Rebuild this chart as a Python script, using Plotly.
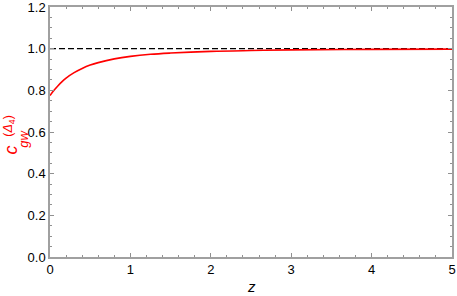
import plotly.graph_objects as go

z_vals = [0, 0.05, 0.1, 0.15, 0.2, 0.3, 0.4, 0.5, 0.6, 0.8, 1.0, 1.25, 1.5, 2.0, 2.5, 3.0, 4.0, 5.0]
c_vals = [0.775, 0.800, 0.822, 0.842, 0.859, 0.885, 0.905, 0.921, 0.933, 0.951, 0.963, 0.973, 0.979,
          0.987, 0.991, 0.994, 0.9966, 0.998]
ref_x = [0, 5]
ref_y = [1, 1]
x_ticks = [0, 1, 2, 3, 4, 5]
y_ticks = [0.0, 0.2, 0.4, 0.6, 0.8, 1.0, 1.2]
y_tick_text = ["0.0", "0.2", "0.4", "0.6", "0.8", "1.0", "1.2"]

fig = go.Figure()
fig.add_trace(go.Scatter(x=ref_x, y=ref_y, mode="lines",
                         line=dict(color="black", width=1.2, dash="6px,3px"), showlegend=False))
fig.add_trace(go.Scatter(x=z_vals, y=c_vals, mode="lines", line_shape="spline",
                         line=dict(color="#ff0000", width=1.6), showlegend=False))

axis_common = dict(showgrid=False, zeroline=False, showline=True, linecolor="#a0a0a0", linewidth=1.5,
                   mirror="allticks", ticks="inside", tickcolor="#909090", ticklen=4, tickwidth=1,
                   automargin=False, ticklabeloverflow="allow",
                   tickfont=dict(family="Liberation Sans, Arial", size=13, color="black"))

fig.update_xaxes(range=[0, 5], tickvals=x_ticks, **axis_common,
                 minor=dict(ticks="inside", ticklen=2, dtick=0.2, tickcolor="#909090"))
fig.update_yaxes(range=[0, 1.2], tickvals=y_ticks, ticktext=y_tick_text, **axis_common,
                 minor=dict(ticks="inside", ticklen=2, dtick=0.05, tickcolor="#909090"))

fig.add_annotation(text="<i>z</i>", xref="paper", yref="paper", x=0.5, y=-0.116,
                   xanchor="center", yanchor="middle",
                   showarrow=False, font=dict(family="Liberation Sans, Arial", size=15, color="black"))
red_font = dict(family="Liberation Sans, Arial", color="#ff0000")
anc = dict(xref="paper", yref="paper", xanchor="center", yanchor="middle", textangle=-90, showarrow=False)
fig.add_annotation(text="<i>c</i>", x=-0.0958, y=0.428, font=dict(size=18, **red_font), **anc)
fig.add_annotation(text="(<i>Δ</i><sub>4</sub>)", x=-0.102, y=0.525, font=dict(size=12.5, **red_font), **anc)
fig.add_annotation(text="<i>gw</i>", x=-0.068, y=0.472, font=dict(size=13, **red_font), **anc)

fig.update_layout(width=457, height=296, margin=dict(l=50, r=5, t=7, b=39),
                  plot_bgcolor="white", paper_bgcolor="white")
fig.write_html("out.html", config={"displayModeBar": False},
               post_script="document.body.style.margin='0';document.body.style.overflow='hidden';")
